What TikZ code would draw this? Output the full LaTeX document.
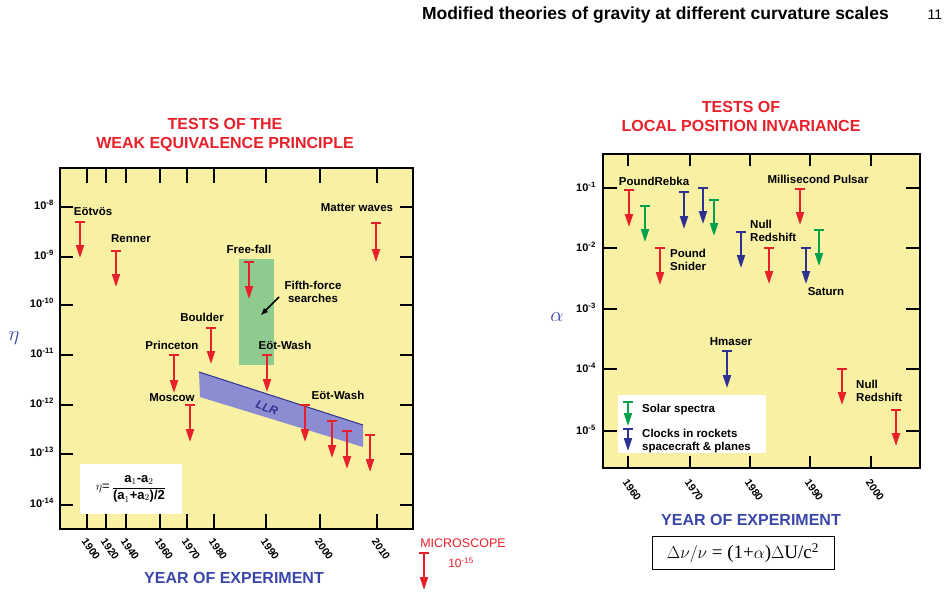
\documentclass[tikz,border=0pt]{standalone}
\usepackage{fontspec}
\setmainfont{Liberation Sans}
\newfontfamily\serifb{Liberation Serif}
\usetikzlibrary{arrows.meta}
\definecolor{yel}{HTML}{F8F1A4}
\definecolor{rd}{HTML}{E8202A}
\definecolor{bl}{HTML}{2E3192}
\definecolor{gr}{HTML}{00A14B}
\definecolor{lb}{HTML}{3A47A8}
\definecolor{grf}{HTML}{8FCB8F}
\definecolor{llr}{HTML}{8C8CD2}
\newcommand\arr[4]{\draw[#1,line width=2pt] ({#2-5},#3)--({#2+5},#3);
 \draw[#1,line width=2pt,-{Triangle[width=8pt,length=13pt]}] (#2,#3)--(#2,#4);}
\newcommand\ten[1]{10\textsuperscript{#1}}
\begin{document}
\begin{tikzpicture}[x=1pt,y=-1pt,font=\bfseries,
 lab/.style={font=\fontsize{11.5}{12.5}\selectfont\bfseries,inner sep=0pt},
 tit/.style={font=\fontsize{16}{19}\selectfont\bfseries,text=rd,align=center,inner sep=0pt},
 yr/.style={font=\fontsize{10.5}{12}\selectfont\bfseries,rotate=-55,inner sep=0pt},
 tk/.style={font=\fontsize{11}{12}\selectfont\bfseries,inner sep=0pt,anchor=east},
 axl/.style={font=\fontsize{16}{18}\selectfont\bfseries,text=lb,inner sep=0pt}]
\useasboundingbox (0,0) rectangle (948,599);
\node[anchor=east,font=\fontsize{17.5}{19}\selectfont\bfseries,inner sep=0pt] (hdr) at (889,15) {Modified theories of gravity at different curvature scales};
\node[font=\fontsize{14}{15}\selectfont,inner sep=0pt] (pg) at (935,15) {11};
% ---------- left plot
\node[tit] (t1) at (225,135) {TESTS OF THE\\WEAK EQUIVALENCE PRINCIPLE};
\fill[yel] (60,168) rectangle (413,529);
\fill[grf] (239,259) rectangle (274,365);
\fill[llr] (199,372)--(363,425)--(363,447)--(200,397)--cycle;
\draw[bl,line width=1pt] (199,372)--(363,425);
\node[rotate=-20,font=\fontsize{11.5}{12}\selectfont\bfseries\itshape,text=bl] (llrt) at (267,408) {LLR};
\draw[line width=1.5pt] (60,168) rectangle (413,529);
\foreach \y/\e in {207/-8,257/-9,305/-10,355/-11,405/-12,454/-13,505/-14}{
 \draw[line width=2.2pt] (60,\y)--(73,\y) (400,\y)--(413,\y);
 \node[tk] at (54,{\y-2}) {\ten{\e}};}
\foreach \x/\t in {87/1900,106/1920,126/1940,160/1960,187/1970,214/1980,266/1990,320/2000,377/2010}{
 \draw[line width=2.2pt] (\x,168)--(\x,183) (\x,529)--(\x,514);
 \node[yr] at ({\x+4},549) {\t};}
\node[axl,font=\fontsize{22}{22}\selectfont] (eta) at (14,338) {$\eta$};
\node[axl] (ax1) at (234,578) {YEAR OF EXPERIMENT};
\arr{rd}{80}{222}{258}
\arr{rd}{116}{251}{287}
\arr{rd}{249}{262}{299}
\arr{rd}{211}{328}{364}
\arr{rd}{174}{355}{393}
\arr{rd}{267}{355}{392}
\arr{rd}{190}{405}{442}
\arr{rd}{305}{405}{442}
\arr{rd}{332}{421}{458}
\arr{rd}{347}{431}{469}
\arr{rd}{370}{435}{472}
\arr{rd}{376}{223}{262}
\node[lab] at (93,212) {Eötvös};
\node[lab] at (131,239) {Renner};
\node[lab] at (249,249) {Free-fall};
\node[lab,align=center] (ff) at (313,292) {Fifth-force\\searches};
\coordinate (ffa) at (261,315);
\draw[line width=1.5pt,-{Triangle[width=5pt,length=7pt]}] (279,297)--(ffa);
\node[lab] at (202,317) {Boulder};
\node[lab] at (172,345) {Princeton};
\node[lab] at (285,345) {Eöt-Wash};
\node[lab] at (172,398) {Moscow};
\node[lab] at (338,395) {Eöt-Wash};
\node[lab] at (357,208) {Matter waves};
\fill[white] (80,464) rectangle (182,514);
\node[font=\fontsize{13}{14}\selectfont,inner sep=0pt] (form) at (131,489) {$\eta$=\,$\displaystyle\frac{\textbf{a}_1\textbf{-a}_2}{\textbf{(a}_1\textbf{+a}_2\textbf{)/2}}$};
\node[font=\fontsize{12.5}{13}\selectfont,text=rd,inner sep=0pt] (mic) at (463,543) {MICROSCOPE};
\node[font=\fontsize{12}{13}\selectfont,text=rd,inner sep=0pt] (mic2) at (461,563) {10\textsuperscript{-15}};
\draw[rd,line width=2pt] (419,553)--(429,553);
\draw[rd,line width=2pt,-{Triangle[width=8pt,length=13pt]}] (424,553)--(424,590);
% ---------- right plot
\node[tit] (t2) at (741,116) {TESTS OF\\LOCAL POSITION INVARIANCE};
\fill[yel] (603,154) rectangle (920,468);
\draw[line width=1.5pt] (603,154) rectangle (920,468);
\foreach \y/\e in {188/-1,248/-2,309/-3,369/-4,431/-5}{
 \draw[line width=2.2pt] (603,\y)--(617,\y) (906,\y)--(920,\y);
 \node[tk] at (596,{\y-1}) {\ten{\e}};}
\foreach \x/\t in {628/1960,690/1970,750/1980,810/1990,871/2000}{
 \draw[line width=2.2pt] (\x,154)--(\x,166) (\x,468)--(\x,456);
 \node[yr] at ({\x+4},490) {\t};}
\node[axl,font=\fontsize{22}{22}\selectfont] (al) at (557,317) {$\alpha$};
\node[axl] (ax2) at (751,520) {YEAR OF EXPERIMENT};
\arr{rd}{629}{190}{227}
\arr{gr}{645}{206}{242}
\arr{rd}{660}{248}{285}
\arr{bl}{684}{192}{229}
\arr{bl}{703}{188}{224}
\arr{gr}{714}{200}{236}
\arr{bl}{741}{232}{268}
\arr{rd}{769}{248}{284}
\arr{rd}{800}{189}{225}
\arr{bl}{806}{248}{284}
\arr{gr}{819}{230}{266}
\arr{bl}{727}{351}{388}
\arr{rd}{842}{369}{405}
\arr{rd}{896}{410}{446}
\node[lab] at (654,181) {PoundRebka};
\node[lab] at (818,179) {Millisecond Pulsar};
\node[lab,anchor=west,align=left] at (750,231) {Null\\Redshift};
\node[lab,anchor=west,align=left] at (670,260) {Pound\\Snider};
\node[lab] at (826,292) {Saturn};
\node[lab] at (731,342) {Hmaser};
\node[lab,anchor=west,align=left] at (856,391) {Null\\Redshift};
\fill[white] (618,395) rectangle (766,453);
\arr{gr}{628}{402}{426}
\arr{bl}{628}{429}{451}
\node[lab,anchor=west] at (642,410) {Solar spectra};
\node[lab,anchor=west,align=left] at (642,441) {Clocks in rockets\\spacecraft \& planes};
\node[draw,line width=0.8pt,minimum width=182pt,minimum height=33pt,font=\serifb\mdseries\fontsize{19}{20}\selectfont] (eq) at (743,553) {$\Delta\nu/\nu$ = (1+$\alpha$)$\Delta$U/c\textsuperscript{2}};
\end{tikzpicture}
\end{document}
